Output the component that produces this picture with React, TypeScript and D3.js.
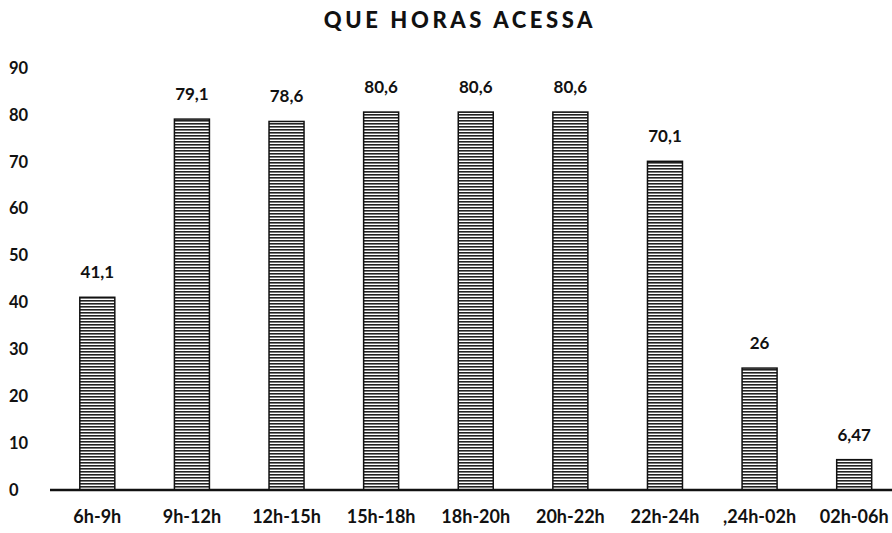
import React from "react";
import * as d3 from "d3";

const categories = ["6h-9h", "9h-12h", "12h-15h", "15h-18h", "18h-20h", "20h-22h", "22h-24h", ",24h-02h", "02h-06h"];
const values = [41.1, 79.1, 78.6, 80.6, 80.6, 80.6, 70.1, 26, 6.47];
const valueLabels = ["41,1", "79,1", "78,6", "80,6", "80,6", "80,6", "70,1", "26", "6,47"];
const yTicks = [0, 10, 20, 30, 40, 50, 60, 70, 80, 90];
const title = "QUE HORAS ACESSA";

const W = 892;
const H = 533;

export default function App() {
  const x = d3
    .scaleBand<string>()
    .domain(categories)
    .range([50, 901.5])
    .paddingInner(0.63)
    .paddingOuter(0.315);
  const y = d3.scaleLinear().domain([0, 90]).range([490, 68]);
  const font = "Lato, 'Open Sans', 'DejaVu Sans', sans-serif";

  return (
    <svg
      width={W}
      height={H}
      style={{ position: "absolute", left: 0, top: 0, background: "#fff" }}
      fontFamily={font}
    >
      <defs>
        <pattern id="hatch" width="6" height="3" patternUnits="userSpaceOnUse">
          <rect width="6" height="3" fill="#ffffff" />
          <rect width="6" height="1.6" fill="#222" />
        </pattern>
      </defs>
      <rect width={W} height={H} fill="#fff" />
      <text
        x={460}
        y={28}
        textAnchor="middle"
        fontSize={22}
        fontWeight={900}
        letterSpacing={3.6}
        fill="#111"
      >
        {title}
      </text>
      {yTicks.map((t) => (
        <text key={t} x={9} y={y(t)} dy="0.35em" fontSize={16.5} fill="#111" fontWeight="bold">
          {t}
        </text>
      ))}
      {categories.map((c, i) => {
        const x0 = x(c) as number;
        const bw = x.bandwidth();
        return (
          <g key={c}>
            <rect
              x={x0}
              y={y(values[i])}
              width={bw}
              height={y(0) - y(values[i])}
              fill="url(#hatch)"
              stroke="#111"
              strokeWidth={1.5}
            />
            <text
              x={x0 + bw / 2}
              y={y(values[i]) - 19}
              textAnchor="middle"
              fontSize={17}
              fill="#111"
              fontWeight="bold"
            >
              {valueLabels[i]}
            </text>
            <text
              x={x0 + bw / 2}
              y={523}
              textAnchor="middle"
              fontSize={18}
              fill="#111"
              fontWeight="bold"
            >
              {c}
            </text>
          </g>
        );
      })}
      <line x1={50} x2={892} y1={y(0)} y2={y(0)} stroke="#111" strokeWidth={2.5} />
    </svg>
  );
}
